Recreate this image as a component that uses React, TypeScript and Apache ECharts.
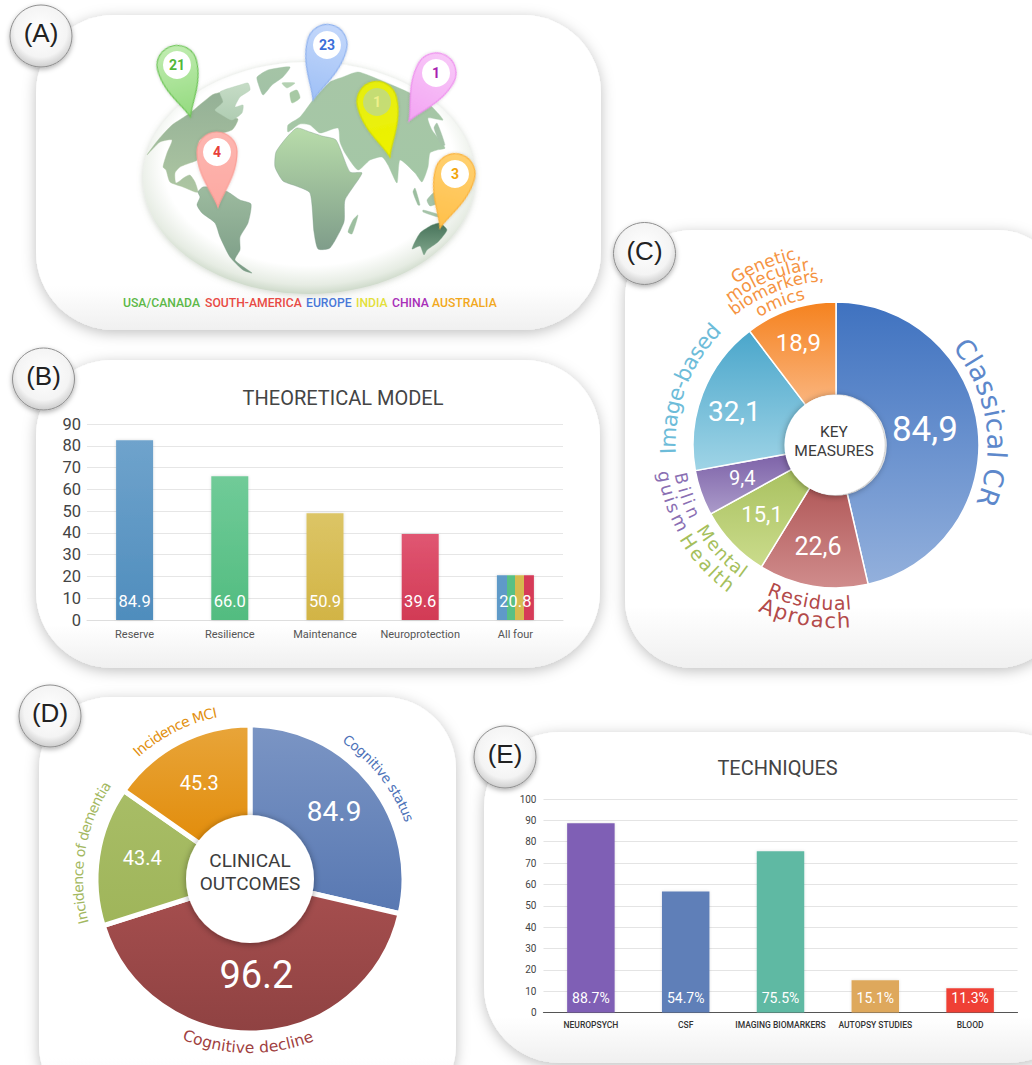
import React, { useEffect, useRef } from "react";
import * as echarts from "echarts";

// ---------- data ----------
const pinRegions = ["USA/CANADA", "SOUTH-AMERICA", "EUROPE", "INDIA", "CHINA", "AUSTRALIA"];
const pinCounts = [21, 4, 23, 1, 1, 3];

const modelCategories = ["Reserve", "Resilience", "Maintenance", "Neuroprotection", "All four"];
const modelBarHeights = [82.5, 66, 49, 39.5, 20.5];
const modelLabels = ["84.9", "66.0", "50.9", "39.6", "20.8"];

const measureNames = ["Classical CR", "Residual Aproach", "Mental Health", "Bilinguism", "Image-based", "Genetic, molecular, biomarkers, omics"];
const measureValues = [84.9, 22.6, 15.1, 9.4, 32.1, 18.9];
const measureLabels = ["84,9", "22,6", "15,1", "9,4", "32,1", "18,9"];

const outcomeNames = ["Cognitive status", "Cognitive decline", "Incidence of dementia", "Incidence MCI"];
const outcomeSliceValues = [84.9, 123, 43.4, 45.3];
const outcomeLabels = ["84.9", "96.2", "43.4", "45.3"];

const techniqueCategories = ["NEUROPSYCH", "CSF", "IMAGING BIOMARKERS", "AUTOPSY STUDIES", "BLOOD"];
const techniqueBarHeights = [88.7, 56.7, 75.5, 15.1, 11.3];
const techniqueLabels = ["88.7%", "54.7%", "75.5%", "15.1%", "11.3%"];

// ---------- drawing helpers ----------
const W = 1032, H = 1065;
const DIN = "Roboto, sans-serif";
const ROUND = "'DejaVu Sans', sans-serif";
const LG = (c0: string, c1: string, horizontal = false) =>
  new echarts.graphic.LinearGradient(0, 0, horizontal ? 1 : 0, horizontal ? 0 : 1, [
    { offset: 0, color: c0 },
    { offset: 1, color: c1 },
  ]);

const card = (x: number, y: number, w: number, h: number, r: number) => ({
  type: "rect", z: -5,
  shape: { x, y, width: w, height: h, r },
  style: {
    fill: new echarts.graphic.LinearGradient(0, 0, 0, 1, [
      { offset: 0, color: "#ffffff" }, { offset: 0.86, color: "#ffffff" }, { offset: 1, color: "#f0f0f0" },
    ]),
    shadowBlur: 14, shadowColor: "rgba(0,0,0,0.25)", shadowOffsetY: 3,
  },
});

const badge = (cx: number, cy: number, t: string) => [
  {
    type: "circle", z: 20, shape: { cx, cy, r: 31 },
    style: {
      fill: new echarts.graphic.RadialGradient(0.5, 0.42, 0.6, [
        { offset: 0, color: "#ffffff" }, { offset: 0.7, color: "#f4f4f4" }, { offset: 1, color: "#c9c9c9" },
      ]),
      stroke: "#8f8f8f", lineWidth: 1, shadowBlur: 5, shadowColor: "rgba(0,0,0,0.3)", shadowOffsetY: 2,
    },
  },
  {
    type: "text", z: 21, x: cx, y: cy - 3,
    style: { text: t, fontFamily: "'Liberation Sans', sans-serif", fontSize: 26, fill: "#222", align: "center", verticalAlign: "middle" },
  },
];

const ctx = document.createElement("canvas").getContext("2d") as CanvasRenderingContext2D;
// one text per glyph, set along an arc; angles in degrees clockwise from the top
function arcText(t: string, cx: number, cy: number, r: number, a0: number, a1: number, size: number, fill: string, inward = false) {
  ctx.font = `${size}px 'DejaVu Sans'`;
  const glyphs = Array.from(t);
  const adv = glyphs.map((g) => ctx.measureText(g).width);
  const mids: number[] = [];
  let run = 0;
  adv.forEach((w) => { mids.push(run + w / 2); run += w; });
  const first = mids[0], last = mids[mids.length - 1];
  return glyphs.map((g, i) => {
    const a = a0 + ((mids[i] - first) / (last - first)) * (a1 - a0);
    const rad = (a * Math.PI) / 180;
    return {
      type: "text", z: 8,
      x: cx + r * Math.sin(rad), y: cy - r * Math.cos(rad),
      rotation: inward ? Math.PI - rad : -rad,
      style: { text: g, fontFamily: ROUND, fontSize: size, fill, align: "center", verticalAlign: "middle" },
    };
  });
}

echarts.graphic.registerShape("pin", echarts.graphic.extendPath("M 0 55 C -4 42 -20 24 -20 0 A 20 20 0 1 1 20 0 C 20 24 4 42 0 55 Z", {}) as any);

// head x, head y, tip x, tip y (pixels of the picture), fills
const pinLayout = [
  { hx: 177, hy: 65, tx: 190.5, ty: 117, c0: "#c0ecb0", c1: "#93da7e", stroke: "#6cc455", text: "#52b83a", inner: "#fff" },
  { hx: 217, hy: 152, tx: 218, ty: 207, c0: "#fdb6b0", c1: "#fda9a2", stroke: "#fb9e96", text: "#e8403a", inner: "#fff" },
  { hx: 327, hy: 45, tx: 313, ty: 100, c0: "#c4d8fb", c1: "#9fc0f6", stroke: "#8fb2ef", text: "#3d6fd8", inner: "#fff" },
  { hx: 377, hy: 102, tx: 390, ty: 157, c0: "#e6ee10", c1: "#eef200", stroke: "#d6de00", text: "#eef08a", inner: "rgba(185,215,150,0.75)" },
  { hx: 436, hy: 73, tx: 409, ty: 121, c0: "#f8c8f8", c1: "#f3a3f3", stroke: "#ee8eee", text: "#a81fb0", inner: "#fff" },
  { hx: 455, hy: 174, tx: 440, ty: 228, c0: "#ffd070", c1: "#ffc04a", stroke: "#fbb23a", text: "#f2a50c", inner: "#fff" },
];
const pinElements = (): any[] =>
  pinLayout.flatMap((p, i) => {
    const dx = p.tx - p.hx, dy = p.ty - p.hy;
    return [
      {
        type: "pin", z: 12, x: p.hx, y: p.hy, rotation: Math.atan2(dx, dy), scaleY: Math.hypot(dx, dy) / 55,
        style: { fill: LG(p.c0, p.c1), stroke: p.stroke, lineWidth: 1.2, shadowBlur: 3, shadowColor: "rgba(0,0,0,0.18)" },
      },
      { type: "circle", z: 13, shape: { cx: p.hx, cy: p.hy, r: 14 }, style: { fill: p.inner } },
      {
        type: "text", z: 14, x: p.hx, y: p.hy,
        style: { text: String(pinCounts[i]), fontFamily: DIN, fontSize: 14, fontWeight: "bold", fill: p.text, align: "center", verticalAlign: "middle" },
      },
    ];
  });

// simplified land outlines of the globe
const land: { pts: number[][]; c0: string; c1: string }[] = [
  { c0: "#94b096", c1: "#adc6a2", pts: [[147,155],[158,140],[172,125],[190,113],[212,95],[222,92],[236,92],[232,106],[226,115],[238,119],[232,130],[200,140],[197,160],[190,163],[180,167],[175,173],[176,183],[185,177],[190,175],[195,182],[198,192],[195,192],[183,187],[170,182],[166,170],[163,167],[167,153],[172,140],[160,142]] },
  { c0: "#c6dcc6", c1: "#b0cdb3", pts: [[220,92],[240,85],[248,83],[250,90],[240,97],[235,107],[243,105],[242,113],[232,120],[222,115],[215,110],[223,102]] },
  { c0: "#9dbb9f", c1: "#7b9c86", pts: [[198,192],[203,187],[217,188],[228,192],[240,200],[251,204],[248,223],[240,237],[240,250],[235,260],[252,273],[243,270],[230,257],[220,237],[215,223],[202,213],[197,205],[200,197]] },
  { c0: "#a5c4a6", c1: "#a2c2a6", pts: [[257,77],[268,70],[290,67],[283,77],[272,85],[263,95],[258,83]] },
  { c0: "#b4d1b2", c1: "#b4d1b2", pts: [[282,83],[295,83],[287,88]] },
  { c0: "#a7c9a4", c1: "#a7c9a4", pts: [[290,93],[297,90],[300,98],[292,103]] },
  { c0: "#b8dcaa", c1: "#7f9d8a", pts: [[287,137],[297,128],[310,132],[322,136],[336,140],[350,172],[362,173],[345,200],[344,222],[330,248],[318,249],[314,232],[310,193],[296,186],[283,181],[275,167],[276,152]] },
  { c0: "#9dbfa0", c1: "#9dbfa0", pts: [[358,215],[352,234],[348,232],[353,220]] },
  { c0: "#a7c6a6", c1: "#a4c7a6", pts: [[288,125],[300,117],[313,100],[330,82],[343,77],[358,72],[380,80],[410,93],[430,105],[443,120],[428,118],[432,130],[445,148],[437,150],[430,153],[428,167],[422,182],[415,173],[400,160],[397,183],[388,165],[382,157],[370,160],[358,170],[345,153],[340,142],[338,128],[320,133],[310,125],[300,124],[288,132]] },
  { c0: "#9cbea0", c1: "#9cbea0", pts: [[415,188],[420,205],[418,205],[413,192]] },
  { c0: "#a5c3a8", c1: "#a5c3a8", pts: [[427,200],[435,192],[437,203],[430,206]] },
  { c0: "#a5c3a8", c1: "#a5c3a8", pts: [[423,210],[440,215],[438,217],[423,212]] },
  { c0: "#a5c3a8", c1: "#a5c3a8", pts: [[437,123],[445,145],[441,145],[434,128]] },
  { c0: "#47735a", c1: "#7fa58b", pts: [[412,249],[420,233],[432,225],[440,223],[447,230],[438,242],[427,250],[424,255],[420,246]] },
];

const legendXs = [123, 205, 306, 356, 392, 432];
const legendColors = ["#5cb848", "#e84a44", "#4a78d8", "#e3e03a", "#a82fb8", "#f2a81c"];

const modelColors = [
  ["#6fa3cc", "#4f8dbd"], ["#70cb98", "#52bc80"], ["#dcc566", "#d2b445"], ["#e05672", "#d23a55"],
];
const fourBar = new echarts.graphic.LinearGradient(0, 0, 1, 0, [
  { offset: 0, color: "#5f9ac8" }, { offset: 0.28, color: "#5f9ac8" }, { offset: 0.28, color: "#58c084" }, { offset: 0.5, color: "#58c084" },
  { offset: 0.5, color: "#d6ba50" }, { offset: 0.73, color: "#d6ba50" }, { offset: 0.73, color: "#d63a58" }, { offset: 1, color: "#d63a58" },
]);
const techniqueColors = ["#7f5fb5", "#5f7fb8", "#5fb9a3", "#dea85c", "#ef4136"];

const measureGrad = [["#3f72c0", "#93b0dc"], ["#b25a5a", "#d08c8c"], ["#a9c160", "#cbdc8c"], ["#7d62a8", "#ab9bca"], ["#4aa6cb", "#9fd4e6"], ["#f5821f", "#fab57e"]];
const measureSizes = [35, 25, 22, 20, 28, 24];
const measureNudges = [[-10, -4], [-2, 3], [-2, 1], [0, 0], [-9, 3], [-6, -8]];
const outcomeGrad = [["#7b95c4", "#5878b2"], ["#a54e4e", "#8f4242"], ["#a8bd66", "#9fb55a"], ["#e8a53a", "#e28c0a"]];
const outcomeSizes = [28, 38, 20, 20];
const outcomeNudges = [[-2, 1], [2, -14], [1, -4], [0, 2]];

const centerDisc = (cx: number, cy: number, r: number) => ({
  type: "circle", z: 6, shape: { cx, cy, r },
  style: { fill: "#fff", shadowBlur: 7, shadowColor: "rgba(0,0,0,0.4)", shadowOffsetY: 1 },
});
const centerText = (x: number, y: number, t: string, size: number) => ({
  type: "text", z: 7, x, y,
  style: { text: t, fontFamily: DIN, fontSize: size, fill: "#3c3c3c", align: "center", verticalAlign: "middle" },
});

const C = { x: 836, y: 445 };
const D = { x: 250, y: 879 };

function buildOption(): any {
  const graphics: any[] = [
    card(36, 15, 565, 315, 78),
    card(36, 360, 564, 308, 76),
    card(625, 230, 440, 438, 68),
    card(39, 697, 417, 420, 72),
    card(484, 732, 600, 331, 76),
    // globe
    {
      type: "ellipse", z: -1, shape: { cx: 309, cy: 178, rx: 166, ry: 116 },
      style: {
        fill: new echarts.graphic.RadialGradient(0.5, 0.44, 0.56, [
          { offset: 0, color: "#ffffff" }, { offset: 0.78, color: "#ffffff" }, { offset: 0.93, color: "#e6ece3" }, { offset: 1, color: "#cdd9c9" },
        ]),
        shadowBlur: 6, shadowColor: "rgba(120,140,110,0.35)", shadowOffsetY: 1,
      },
    },
    ...land.map((l) => ({
      type: "polygon", z: 0, shape: { points: l.pts, smooth: 0.2 },
      style: { fill: LG(l.c0, l.c1), stroke: l.c1, lineWidth: 0.4, lineJoin: "round" },
    })),
    ...pinElements(),
    ...pinRegions.map((t, i) => ({
      type: "text", z: 5, x: legendXs[i], y: 303,
      style: { text: t, fontFamily: DIN, fontSize: 12.2, fontWeight: 500, fill: legendColors[i], align: "left", verticalAlign: "middle" },
    })),
    centerDisc(834.5, C.y, 50),
    centerText(834, 432, "KEY", 15.5),
    centerText(834, 450.5, "MEASURES", 15.5),
    centerDisc(D.x, D.y, 64),
    centerText(250, 860, "CLINICAL", 19),
    centerText(250, 883, "OUTCOMES", 19),
    // text along panel C
    ...arcText("Classical CR", C.x, C.y, 161, 53.5, 109, 27, "#5d88cb"),
    ...arcText("Residual", C.x, C.y, 158, 202.6, 175.5, 19, "#b34a4a", true),
    ...arcText("Aproach", C.x, C.y, 176, 203, 177.5, 21, "#b34a4a", true),
    ...arcText("Mental", C.x, C.y, 157, 236, 216.3, 18, "#a5bf5c", true),
    ...arcText("Health", C.x, C.y, 176, 236.8, 218, 19, "#a5bf5c", true),
    ...arcText("Bilin", C.x, C.y, 158, 257.8, 244.9, 17, "#8a6fb3", true),
    ...arcText("guism", C.x, C.y, 174, 259.6, 243.6, 18, "#8a6fb3", true),
    ...arcText("Image-based", C.x, C.y, 168, 268, 312.4, 21.5, "#6dbcd9"),
    ...arcText("Genetic,", C.x, C.y, 196, 330, 348.8, 17, "#f59342"),
    ...arcText("molecular,", C.x, C.y, 183, 326, 352.3, 17, "#f59342"),
    ...arcText("biomarkers,", C.x, C.y, 170, 323.6, 355, 16.5, "#f59342"),
    ...arcText("omics", C.x, C.y, 155, 331, 346.5, 17, "#f59342"),
    // text along panel D
    ...arcText("Cognitive status", D.x, D.y, 170, 35.4, 68.9, 13.5, "#4d72b8"),
    ...arcText("Cognitive decline", D.x, D.y, 169, 201.3, 159.8, 15.5, "#a04040", true),
    ...arcText("Incidence of dementia", D.x, D.y, 172, 255.6, 302.6, 14, "#a3b85f"),
    ...arcText("Incidence MCI", D.x, D.y, 170, 318.2, 348, 14, "#e2900f"),
    ...badge(41, 36, "(A)"),
    ...badge(43.5, 379, "(B)"),
    ...badge(644.5, 253.5, "(C)"),
    ...badge(50, 716, "(D)"),
    ...badge(505, 757, "(E)"),
  ];

  return {
    animation: false,
    backgroundColor: "#ffffff",
    textStyle: { fontFamily: DIN },
    title: [
      { text: "THEORETICAL MODEL", left: 338, top: 383, textAlign: "center", textStyle: { fontFamily: DIN, fontSize: 20, fontWeight: "normal", color: "#444" } },
      { text: "TECHNIQUES", left: 772.5, top: 753, textAlign: "center", textStyle: { fontFamily: DIN, fontSize: 20, fontWeight: "normal", color: "#444" } },
    ],
    grid: [
      { left: 87, right: W - 563, top: 424, bottom: H - 620 },
      { left: 543.5, right: W - 1017.5, top: 799, bottom: H - 1012.5 },
    ],
    xAxis: [
      {
        type: "category", gridIndex: 0, data: modelCategories,
        axisLine: { lineStyle: { color: "#dedede", width: 1 } },
        axisTick: { length: 3, lineStyle: { color: "#cfcfcf" } },
        axisLabel: { fontFamily: DIN, fontSize: 11, color: "#555", margin: 9, interval: 0 },
      },
      {
        type: "category", gridIndex: 1, data: techniqueCategories,
        axisLine: { lineStyle: { color: "#555", width: 1.2 } },
        axisTick: { length: 3, lineStyle: { color: "#555" } },
        axisLabel: { fontFamily: DIN, fontSize: 8.5, fontWeight: 500, color: "#333", margin: 8, interval: 0 },
      },
    ],
    yAxis: [
      {
        type: "value", gridIndex: 0, min: 0, max: 90, interval: 10,
        axisLine: { show: false }, axisTick: { show: false },
        splitLine: { lineStyle: { color: "#e6e6e6", width: 1 } },
        axisLabel: { fontFamily: DIN, fontSize: 16.5, color: "#444", margin: 6 },
      },
      {
        type: "value", gridIndex: 1, min: 0, max: 100, interval: 10,
        axisLine: { show: false }, axisTick: { show: false },
        splitLine: { lineStyle: { color: "#e4e4e4", width: 1.2 } },
        axisLabel: { fontFamily: DIN, fontSize: 10, color: "#444", margin: 7 },
      },
    ],
    series: [
      {
        type: "bar", xAxisIndex: 0, yAxisIndex: 0, barWidth: 37, silent: true,
        data: modelBarHeights.map((v, i) => ({
          value: v,
          itemStyle: {
            color: i < 4 ? LG(modelColors[i][0], modelColors[i][1]) : fourBar,
            shadowBlur: 3, shadowColor: "rgba(0,0,0,0.15)",
          },
        })),
        label: {
          show: true, position: "insideBottom", distance: 10, color: "#fff", fontFamily: DIN, fontSize: 16.5,
          formatter: (p: any) => modelLabels[p.dataIndex],
        },
      },
      {
        type: "bar", xAxisIndex: 1, yAxisIndex: 1, barWidth: 47.5, silent: true,
        data: techniqueBarHeights.map((v, i) => ({
          value: v,
          itemStyle: { color: techniqueColors[i], shadowBlur: 3, shadowColor: "rgba(0,0,0,0.12)" },
        })),
        label: {
          show: true, position: "insideBottom", distance: 8, color: "#fff", fontFamily: DIN, fontSize: 14,
          formatter: (p: any) => techniqueLabels[p.dataIndex],
        },
      },
      {
        type: "pie", center: [C.x, C.y], radius: [50, 143], startAngle: 90, clockwise: true, silent: true,
        labelLine: { show: false }, emphasis: { disabled: true },
        itemStyle: { borderColor: "#fff", borderWidth: 1.5 },
        data: measureValues.map((v, i) => ({
          value: v, name: measureNames[i],
          itemStyle: { color: LG(measureGrad[i][0], measureGrad[i][1]) },
          label: { fontSize: measureSizes[i], offset: measureNudges[i] },
        })),
        label: {
          show: true, position: "inside", color: "#fff", fontFamily: DIN,
          formatter: (p: any) => measureLabels[p.dataIndex],
        },
      },
      {
        type: "pie", center: [D.x, D.y], radius: [60, 154], startAngle: 90, clockwise: true, silent: true,
        labelLine: { show: false }, emphasis: { disabled: true },
        itemStyle: { borderColor: "#fff", borderWidth: 5 },
        data: outcomeSliceValues.map((v, i) => ({
          value: v, name: outcomeNames[i],
          itemStyle: { color: LG(outcomeGrad[i][0], outcomeGrad[i][1]) },
          label: { fontSize: outcomeSizes[i], offset: outcomeNudges[i] },
        })),
        label: {
          show: true, position: "inside", color: "#fff", fontFamily: DIN,
          formatter: (p: any) => outcomeLabels[p.dataIndex],
        },
      },
    ],
    graphic: { elements: graphics },
  };
}

export default function App() {
  const ref = useRef<HTMLDivElement>(null);
  useEffect(() => {
    const chart = echarts.init(ref.current as HTMLDivElement, undefined, { renderer: "svg" });
    chart.setOption(buildOption());
    return () => chart.dispose();
  }, []);
  return <div ref={ref} style={{ position: "absolute", left: 0, top: 0, width: W, height: H }} />;
}
